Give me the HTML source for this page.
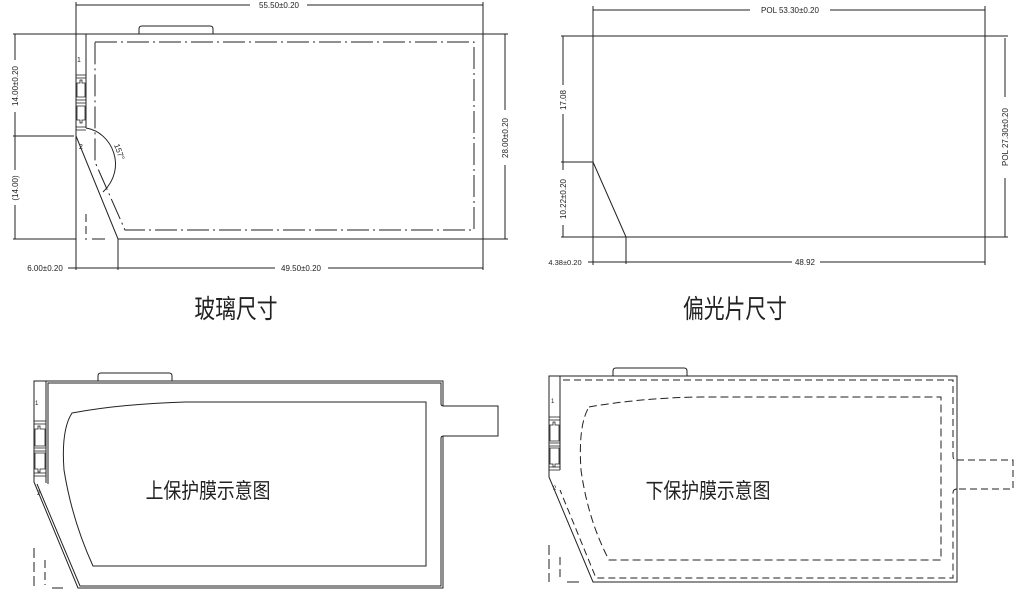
<!DOCTYPE html>
<html><head><meta charset="utf-8"><style>
html,body{margin:0;padding:0;background:#fff;}
svg{display:block;}
text{font-family:"Liberation Sans","Noto Sans CJK SC",sans-serif;fill:#222;}
</style></head><body>
<svg width="1024" height="595" viewBox="0 0 1024 595" xmlns="http://www.w3.org/2000/svg" fill="none" stroke="#222" stroke-width="1">
<!-- ========== TOP LEFT: glass ========== -->
<g>
<line x1="76" y1="2" x2="76" y2="270"/>
<line x1="483" y1="2" x2="483" y2="270"/>
<line x1="76" y1="5" x2="250" y2="5"/><line x1="307" y1="5" x2="483" y2="5"/>
<text x="279" y="8" font-size="8" text-anchor="middle" stroke="none">55.50±0.20</text>
<path d="M139 34 V29 Q139 26 142 26 H210 Q213 26 213 29 V34"/>
<path d="M76 34 H483 V239 H118 L76 136 Z"/>
<line x1="86" y1="34" x2="86" y2="128"/>
<path d="M95 42 H474 V230 H125 L95 162 V42" stroke-dasharray="22,4,2,4"/>
<g stroke-width="0.8">
<line x1="76" y1="75" x2="86" y2="75"/><line x1="76" y1="78" x2="86" y2="78"/>
<line x1="76" y1="100" x2="86" y2="100"/><line x1="76" y1="103" x2="86" y2="103"/>
<line x1="76" y1="127" x2="86" y2="127"/><line x1="76" y1="130" x2="86" y2="130"/>
<path d="M77 83 H80 V80 H82 V83 H85 V97 H77 Z"/>
<path d="M77 106 H85 V120 H82 V123 H80 V120 H77 Z"/>
</g>
<text x="77" y="62" font-size="7" stroke="none">1</text>
<text x="79" y="149" font-size="7" stroke="none">2</text>
<path d="M86 128 C112 132 128 168 103 192"/>
<text x="0" y="0" font-size="8" stroke="none" transform="translate(114,145) rotate(70)">157°</text>
<line x1="13" y1="34" x2="76" y2="34"/>
<line x1="13" y1="136" x2="74" y2="136"/>
<line x1="13" y1="239" x2="76" y2="239"/>
<line x1="15" y1="34" x2="15" y2="60"/><line x1="15" y1="112" x2="15" y2="170"/>
<line x1="15" y1="205" x2="15" y2="239"/>
<text font-size="8" stroke="none" text-anchor="middle" transform="translate(18,86) rotate(-90)">14.00±0.20</text>
<text font-size="8" stroke="none" text-anchor="middle" transform="translate(18,188) rotate(-90)">(14.00)</text>
<line x1="86" y1="214" x2="86" y2="240" stroke-dasharray="8,4"/>
<line x1="92" y1="239" x2="105" y2="239"/>
<line x1="483" y1="34" x2="508" y2="34"/><line x1="483" y1="239" x2="508" y2="239"/>
<line x1="505" y1="34" x2="505" y2="110"/><line x1="505" y1="165" x2="505" y2="239"/>
<text font-size="8" stroke="none" text-anchor="middle" transform="translate(508,138) rotate(-90)">28.00±0.20</text>
<line x1="118" y1="239" x2="118" y2="270"/>
<line x1="68" y1="268" x2="119" y2="268"/>
<line x1="119" y1="268" x2="275" y2="268"/><line x1="328" y1="268" x2="483" y2="268"/>
<text x="45" y="271" font-size="8" text-anchor="middle" stroke="none">6.00±0.20</text>
<text x="301" y="271" font-size="8" text-anchor="middle" stroke="none">49.50±0.20</text>
</g>

<!-- ========== TOP RIGHT: polarizer ========== -->
<g>
<line x1="593" y1="6" x2="593" y2="265"/>
<line x1="985" y1="6" x2="985" y2="265"/>
<line x1="593" y1="10" x2="750" y2="10"/><line x1="830" y1="10" x2="985" y2="10"/>
<text x="790" y="13" font-size="8" text-anchor="middle" stroke="none">POL 53.30±0.20</text>
<path d="M593 36 H985 V237 H626 L593 162"/>
<line x1="561" y1="36" x2="593" y2="36"/>
<line x1="561" y1="162" x2="593" y2="162"/>
<line x1="561" y1="237" x2="626" y2="237"/>
<line x1="985" y1="36" x2="1008" y2="36"/><line x1="985" y1="237" x2="1008" y2="237"/>
<line x1="563" y1="36" x2="563" y2="85"/><line x1="563" y1="114" x2="563" y2="162"/>
<line x1="563" y1="162" x2="563" y2="170"/><line x1="563" y1="225" x2="563" y2="237"/>
<text font-size="8" stroke="none" text-anchor="middle" transform="translate(566,100) rotate(-90)">17.08</text>
<text font-size="8" stroke="none" text-anchor="middle" transform="translate(566,199) rotate(-90)">10.22±0.20</text>
<line x1="1005" y1="38" x2="1005" y2="97"/><line x1="1005" y1="178" x2="1005" y2="237"/>
<text font-size="8" stroke="none" text-anchor="middle" transform="translate(1008,137) rotate(-90)">POL 27.30±0.20</text>
<line x1="626" y1="237" x2="626" y2="264"/>
<line x1="588" y1="262" x2="626" y2="262"/>
<line x1="626" y1="262" x2="792" y2="262"/><line x1="820" y1="262" x2="985" y2="262"/>
<text x="565" y="265" font-size="7.5" text-anchor="middle" stroke="none">4.38±0.20</text>
<text x="805" y="265" font-size="8" text-anchor="middle" stroke="none">48.92</text>
</g>

<text x="0" y="0" font-size="26" stroke="none" text-anchor="middle" transform="translate(236,318) scale(0.8,1)">玻璃尺寸</text>
<text x="0" y="0" font-size="26" stroke="none" text-anchor="middle" transform="translate(735,318) scale(0.8,1)">偏光片尺寸</text>

<!-- ========== BOTTOM LEFT ========== -->
<g>
<path d="M98 381 V376 Q98 373 101 373 H169 Q172 373 172 376 V381"/>
<path d="M443 406 V381 H34 V482 L78 588 H443 V436"/>
<path d="M441 404 V383 H48 V484"/>
<path d="M37 484 L80 586 H441 V438"/>
<line x1="46" y1="381" x2="46" y2="483"/>
<path d="M441 404 Q441 406 444 406 H498 V436 H444 Q441 436 441 438"/>
<g stroke-width="0.8">
<line x1="34" y1="421" x2="46" y2="421"/><line x1="34" y1="424" x2="46" y2="424"/>
<line x1="34" y1="448" x2="46" y2="448"/><line x1="34" y1="451" x2="46" y2="451"/>
<line x1="34" y1="473" x2="46" y2="473"/><line x1="34" y1="476" x2="46" y2="476"/>
<path d="M35 429 H38 V426 H40 V429 H45 V446 H35 Z"/>
<path d="M35 453 H45 V469 H40 V472 H38 V469 H35 Z"/>
</g>
<text x="35" y="405" font-size="6" stroke="none">1</text>
<text x="37" y="495" font-size="6" stroke="none">2</text>
<path d="M72 413 Q120 404 185 402 H426 V566 H93 Q72 520 64 470 Q61 430 72 413 Z"/>
<line x1="34" y1="548" x2="34" y2="588" stroke-dasharray="10,4"/>
<line x1="45" y1="560" x2="45" y2="585" stroke-dasharray="8,4"/>
<line x1="52" y1="588" x2="63" y2="588"/>
<text x="0" y="0" font-size="21" stroke="none" text-anchor="middle" transform="translate(208,498) scale(0.85,1)">上保护膜示意图</text>
</g>

<!-- ========== BOTTOM RIGHT ========== -->
<g>
<path d="M613 376 V371 Q613 368 616 368 H684 Q687 368 687 371 V376"/>
<path d="M549 376 H957 V582 H593 L549 477 Z"/>
<line x1="560" y1="376" x2="560" y2="470"/>
<path d="M563 380 H953 V456 Q953 460 957 460 M957 489 Q953 489 953 493 V578 H596 L560 490" stroke-dasharray="7,4"/>
<path d="M957 460 H1013 V489 H957" stroke-dasharray="7,4"/>
<g stroke-width="0.8">
<line x1="549" y1="417" x2="560" y2="417"/><line x1="549" y1="420" x2="560" y2="420"/>
<line x1="549" y1="443" x2="560" y2="443"/><line x1="549" y1="446" x2="560" y2="446"/>
<line x1="549" y1="467" x2="560" y2="467"/><line x1="549" y1="470" x2="560" y2="470"/>
<path d="M550 425 H553 V422 H555 V425 H559 V441 H550 Z"/>
<path d="M550 448 H559 V464 H555 V467 H553 V464 H550 Z"/>
</g>
<text x="551" y="403" font-size="6" stroke="none">1</text>
<text x="553" y="490" font-size="6" stroke="none">2</text>
<path d="M589 407 Q640 398 700 397 H941 V560 H609 Q588 520 581 470 Q578 425 589 407 Z" stroke-dasharray="8,4"/>
<line x1="549" y1="545" x2="549" y2="582" stroke-dasharray="10,4"/>
<line x1="560" y1="557" x2="560" y2="580" stroke-dasharray="8,4"/>
<line x1="567" y1="582" x2="579" y2="582"/>
<text x="0" y="0" font-size="21" stroke="none" text-anchor="middle" transform="translate(708,498) scale(0.85,1)">下保护膜示意图</text>
</g>
</svg>
</body></html>
